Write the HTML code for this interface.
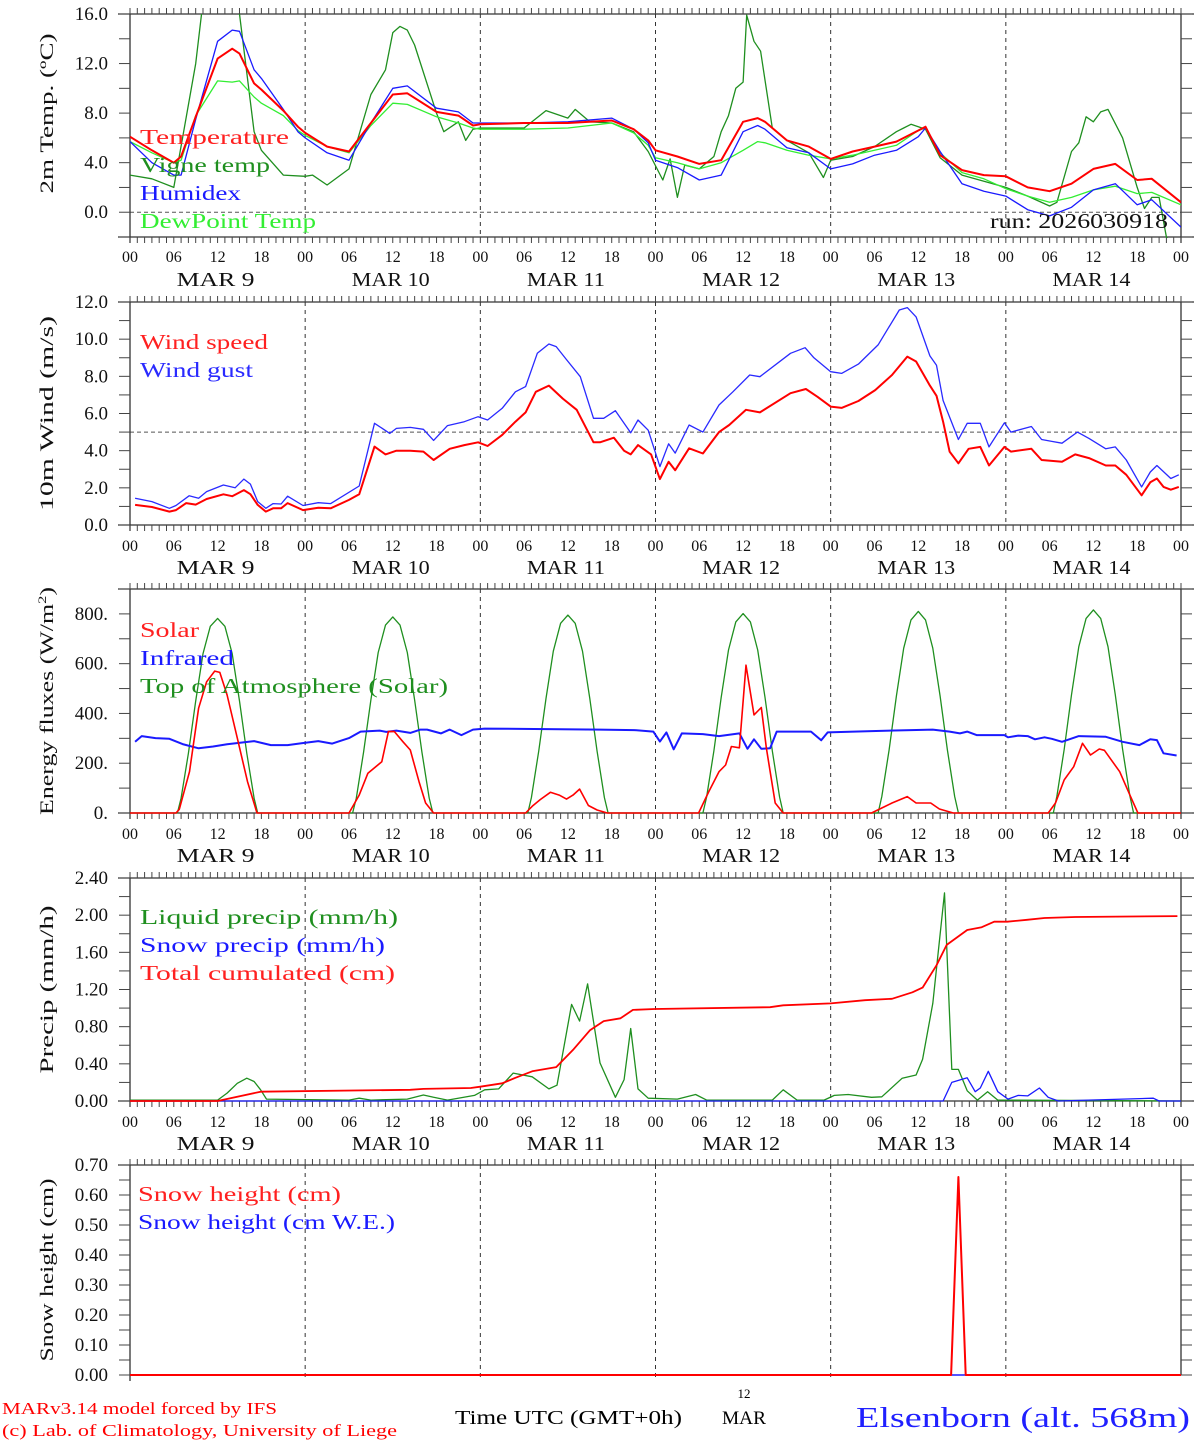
<!DOCTYPE html>
<html><head><meta charset="utf-8"><title>MAR forecast Elsenborn</title>
<style>
html,body{margin:0;padding:0;background:#fff;}
svg{display:block;}
text{font-family:"Liberation Serif",serif;}
</style></head>
<body>
<svg id="chart" width="1194" height="1440" viewBox="0 0 1194 1440" xmlns="http://www.w3.org/2000/svg">
<rect x="0" y="0" width="1194" height="1440" fill="#fff"/>
<text x="2" y="1414" font-size="17" fill="#f00" textLength="275" lengthAdjust="spacingAndGlyphs">MARv3.14 model forced by IFS</text>
<text x="2" y="1436" font-size="17" fill="#f00" textLength="395" lengthAdjust="spacingAndGlyphs">(c) Lab. of Climatology, University of Liege</text>
<text x="455" y="1424" font-size="20" fill="#000" textLength="227" lengthAdjust="spacingAndGlyphs">Time UTC (GMT+0h)</text>
<text x="744" y="1398" font-size="13" fill="#000" text-anchor="middle">12</text>
<text x="722" y="1424" font-size="19" fill="#000" textLength="44" lengthAdjust="spacingAndGlyphs">MAR</text>
<text x="856" y="1427" font-size="28" fill="#2020ff" textLength="334" lengthAdjust="spacingAndGlyphs">Elsenborn (alt. 568m)</text>
</svg>
<script>
// ---------- data ----------
const dayNames = ["MAR  9","MAR 10","MAR 11","MAR 12","MAR 13","MAR 14"];
const hourLabels = ["00","06","12","18"];

const tempHours = [0,3,6,7,9,12,14,15,17,18,21,23,24,27,30,33,36,38,42,45,47,48,54,60,66,69,71,72,75,78,81,84,86,87,90,93,96,99,102,105,108,109,111,114,117,120,123,126,129,132,135,138,140,144];
const tempVals = [6.1,5.0,4.0,4.5,7.7,12.4,13.2,12.8,10.4,9.9,8.2,6.9,6.4,5.3,4.9,7.2,9.5,9.6,8.1,7.8,7.0,7.1,7.2,7.2,7.4,6.7,5.8,5.0,4.5,3.9,4.2,7.3,7.6,7.3,5.8,5.3,4.3,4.9,5.3,5.7,6.6,6.9,4.6,3.4,3.0,2.9,2.0,1.7,2.3,3.5,3.9,2.6,2.7,0.8];
const humidexVals = [5.7,4.0,3.0,3.0,7.5,13.8,14.7,14.6,11.5,10.8,8.3,6.5,6.0,4.8,4.2,7.2,10.0,10.2,8.4,8.1,7.2,7.2,7.2,7.3,7.6,6.7,5.6,4.2,3.6,2.6,3.0,6.5,7.0,6.7,5.2,4.8,3.5,3.9,4.6,5.0,6.1,6.8,4.9,2.3,1.7,1.3,0.2,-0.3,0.4,1.8,2.3,0.6,1.0,-1.2];
const dewVals = [5.7,4.8,4.0,4.2,7.8,10.6,10.5,10.6,9.3,8.8,7.8,6.6,6.2,5.3,4.8,7.0,8.8,8.7,7.7,7.2,6.8,6.7,6.7,6.8,7.2,6.4,5.4,4.4,4.0,3.5,4.0,5.0,5.7,5.6,5.0,4.6,4.3,4.6,5.0,5.4,6.6,6.8,4.8,3.2,2.7,1.9,1.3,0.8,1.2,1.8,2.1,1.5,1.6,0.6];
const vigneHours = [0,3,6,9,10,11,14,15,17,18,21,24,25,27,30,33,35,36,37,38,39,42,43,45,46,47,48,54,57,58,60,61,63,66,69,71,73,74,75,76,78,80,81,82,83,84,84.5,85.5,86.4,88,90,93,95,96,99,102,105,106,107,108,109,111,114,117,120,123,126,127,129,130,131,132,133,134,136,138,139,140,141,142,143];
const vigneVals = [3.0,2.7,2.0,12,17,19,19,16,6.5,5.0,3.0,2.9,3.0,2.2,3.5,9.5,11.5,14.5,15.0,14.7,13.5,8.0,6.5,7.3,5.8,6.7,6.8,6.8,8.2,8.0,7.6,8.3,7.3,7.2,6.5,4.9,2.6,4.3,1.2,3.8,3.5,4.5,6.5,7.8,10.0,10.5,15.9,13.8,13.0,6.8,5.8,4.8,2.8,4.2,4.5,5.3,6.5,6.8,7.1,6.9,6.7,4.4,3.0,2.5,2.0,1.3,0.5,0.8,4.9,5.6,7.7,7.3,8.1,8.3,6.0,2.0,0.3,1.2,1.2,-2.0,-3];

const windHours = [0.7,3,5.4,6.3,7.7,9,10.5,12.8,14,15.6,16.5,17.5,18.6,19.6,20.7,21.6,23.7,25.8,27.5,30,31.4,33.5,35,36.5,38.4,40.2,41.6,43.8,45.8,47.7,49,51,52.8,54.2,55.6,57.4,59.3,61.2,63.5,64.4,66.3,67.7,68.6,69.6,71.4,72.6,73.8,74.7,76.6,78.5,80.7,82.1,84.4,86.3,90.5,92.6,94.2,96,97.5,99.8,102.1,104.4,106.5,107.7,109.6,110.5,111.4,112.3,113.5,114.9,116.5,117.7,119.8,120.7,123.5,124.9,126.3,127.7,129.5,131.4,133.7,135,136.5,138.6,139.8,140.7,141.6,142.6,143.7];
const windVals = [1.08,0.97,0.72,0.8,1.18,1.1,1.4,1.65,1.55,1.88,1.66,1.08,0.72,0.9,0.9,1.18,0.8,0.93,0.9,1.35,1.65,4.22,3.8,4.0,4.0,3.95,3.5,4.1,4.3,4.45,4.25,4.85,5.56,6.06,7.17,7.5,6.8,6.2,4.45,4.45,4.7,4.0,3.8,4.3,3.8,2.47,3.4,2.95,4.13,3.85,5.0,5.38,6.2,6.06,7.09,7.32,6.9,6.37,6.3,6.67,7.26,8.07,9.06,8.8,7.5,6.95,5.56,3.95,3.32,4.1,4.2,3.2,4.2,3.95,4.1,3.5,3.45,3.4,3.8,3.6,3.2,3.2,2.7,1.6,2.3,2.5,2.05,1.9,2.05];
const gustHours = [0.7,3,5.4,6.3,8.1,9.4,10.5,12.8,14.4,15.6,16.5,17.5,18.6,19.6,20.7,21.6,23.7,25.8,27.5,31.4,33.5,35.6,36.5,38.4,40.2,41.6,43.5,45.8,47.7,49,51,52.8,54.2,55.8,57.4,58.4,59.8,61.7,63.5,64.9,66.5,68.6,69.6,71,72.6,73.8,74.7,76.6,78.5,80.7,82.6,84.9,86.3,90.5,92.5,93.7,96,97.5,99.8,102.5,105.4,106.5,107.7,109.6,110.5,111.4,113.5,114.7,116.5,117.7,119.8,120.7,123.5,124.9,126.3,127.7,129.8,131.4,133.7,135,136.5,138.6,139.8,140.7,142.6,143.7];
const gustVals = [1.44,1.26,0.9,1.05,1.57,1.44,1.8,2.15,2.0,2.47,2.2,1.26,0.9,1.15,1.13,1.55,1.05,1.2,1.15,2.1,5.47,4.93,5.2,5.25,5.15,4.55,5.35,5.56,5.83,5.65,6.28,7.17,7.45,9.24,9.74,9.6,8.9,7.98,5.74,5.74,6.15,4.96,5.65,5.1,3.14,4.37,3.87,5.38,5.0,6.46,7.17,8.07,7.98,9.24,9.54,9.0,8.25,8.16,8.66,9.69,11.57,11.7,11.2,9.1,8.6,6.7,4.6,5.47,5.47,4.2,5.5,5.0,5.3,4.6,4.5,4.4,5.0,4.66,4.1,4.2,3.5,2.05,2.85,3.2,2.5,2.7];

const toaHours = [0,6.5,7,8,9,10,11,12,13,14,15,16,17,17.5, 30.5,31,32,33,34,35,36,37,38,39,40,41,41.5, 54.5,55,56,57,58,59,60,61,62,63,64,65,65.5, 78.5,79,80,81,82,83,84,85,86,87,88,89,89.5, 102.5,103,104,105,106,107,108,109,110,111,112,113,113.5, 126.5,127,128,129,130,131,132,133,134,135,136,137,137.5,144];
const toaVals = [0,0,60,240,450,640,750,782,750,640,450,240,60,0, 0,60,245,455,645,755,788,755,645,455,245,60,0, 0,62,248,460,650,762,795,762,650,460,248,62,0, 0,64,250,465,655,768,801,768,655,465,250,64,0, 0,66,253,470,662,776,810,776,662,470,253,66,0, 0,68,256,475,668,782,816,782,668,475,256,68,0,0];
const solarHours = [0,6.3,6.75,8.15,9.4,10.5,11.6,12.3,13.3,14.7,16.1,17.4, 30,31.4,32.6,34.5,35.4,36.2,37.4,38.4,39.6,40.5,41.6, 54.2,55.1,56.2,57.6,58.8,59.8,60.7,61.6,62.8,64,65.4, 77.9,79.3,80.7,81.6,82.4,83.5,84.4,85.5,86.5,87.2,88.4,89.5, 101.6,103,104.4,106.5,107.7,109.7,110.9,112.8, 125.8,126.8,128,129.3,130.5,131.6,132.8,133.5,135.6,137,138.1,144];
const solarVals = [0,0,15,166,421,527,570,565,474,301,126,0, 0,72,160,206,327,328,286,253,126,40,0, 0,27,54,83,72,56,72,96,30,12,0, 0,86,166,193,267,262,594,394,424,260,40,0, 0,20,40,66,40,40,16,0, 0,40,133,186,280,233,257,252,166,72,0,0];
const irHours = [0.7,1.6,3.5,5.4,7.2,9.4,11.4,13.3,17,19.3,21.6,23.5,25.8,27.7,30,31.6,34.2,35.1,36.5,38.4,39.8,40.7,42.6,43.8,45.4,47,48.6,64.4,69.1,71.7,72.6,73.5,74.5,75.6,78.5,80.7,83.5,84.6,85.5,86.5,87.7,88.6,93.3,94.7,95.6,101.6,110,112.3,113.7,114.7,116,119.8,120.3,121.7,123,124,125.3,126.3,127.7,130,133.7,136,138.3,139.8,140.7,141.6,143.4];
const irVals = [286,309,301,298,277,260,267,276,289,273,273,280,289,279,301,327,331,326,331,322,335,335,320,335,313,335,339,335,333,327,287,324,256,320,317,309,320,258,296,258,260,327,327,292,324,329,335,327,320,327,313,313,304,311,309,296,304,298,286,309,306,286,273,296,293,240,231];

const cumHours = [0,12,17.9,38.4,40.2,46.7,48,51,52.8,55.1,58.4,60.7,63,64.9,67.2,68.9,71.9,87.7,89.5,96,100.7,104.4,107.2,108.6,110.5,111.9,114.7,116.7,118.4,120.2,122.9,125.3,129.5,143.5];
const cumVals = [0,0,0.10,0.12,0.13,0.14,0.154,0.19,0.25,0.32,0.365,0.55,0.76,0.86,0.89,0.98,0.99,1.01,1.03,1.05,1.085,1.1,1.17,1.22,1.46,1.68,1.84,1.87,1.93,1.93,1.95,1.97,1.98,1.99];
const liqHours = [0,12,13.3,14.7,16,17,17.9,18.7,30,31.4,33,38,40.2,41.6,43.5,47.2,48.6,50.5,52.5,55.1,57.4,58.5,60.5,61.6,62.7,64.4,66.5,67.7,68.6,69.6,71,75,77.5,79,88,89.5,91.4,95.1,96.5,98.4,101.6,103,105.8,107.7,108.6,110,111.6,112.6,113.5,114.7,116.1,117.5,118.9,144];
const liqVals = [0.01,0.01,0.085,0.19,0.245,0.21,0.12,0.02,0.01,0.03,0.01,0.02,0.065,0.04,0.01,0.06,0.12,0.13,0.3,0.26,0.13,0.17,1.04,0.86,1.26,0.41,0.04,0.23,0.78,0.13,0.03,0.02,0.07,0.01,0.01,0.12,0.01,0.01,0.06,0.07,0.04,0.045,0.245,0.28,0.45,1.05,2.24,0.34,0.34,0.11,0.01,0.1,0.01,0.0];
const snowPrHours = [0,111.4,112.6,114.7,115.8,116.5,117.6,118.9,120.3,121.7,123,124.6,125.8,127.2,140.2,141,144];
const snowPrVals = [0,0,0.2,0.25,0.1,0.14,0.32,0.1,0.02,0.06,0.055,0.14,0.04,0.0,0.03,0,0];

const snowHours = [0,112.5,113.5,114.5,144];
const snowVals = [0,0,0.66,0,0];
const snowWeHours = [0,144];
const snowWeVals = [0,0];

// ---------- drawing ----------
const NS = "http://www.w3.org/2000/svg";
const svg = document.getElementById("chart");
const X0 = 130, X1 = 1181, HMAX = 144;
function xs(h){ return X0 + h * (X1 - X0) / HMAX; }
function mk(tag, attrs, parent){
  const e = document.createElementNS(NS, tag);
  for (const k in attrs) e.setAttribute(k, attrs[k]);
  (parent || svg).appendChild(e);
  return e;
}

const panels = [
  {key:"temp", ymin:-2, ymax:16, pyMin:237, pyMax:14, labels:[0,4,8,12,16], fmt:v=>v.toFixed(1), minor:2, ref:0, title:"2m Temp. (ºC)", titleLen:160, xlab:256, mar:279, bottomTicks:true},
  {key:"wind", ymin:0, ymax:12, pyMin:525, pyMax:302, labels:[0,2,4,6,8,10,12], fmt:v=>v.toFixed(1), minor:1, ref:5, title:"10m Wind (m/s)", titleLen:195, xlab:545, mar:567, bottomTicks:true},
  {key:"energy", ymin:0, ymax:900, pyMin:813, pyMax:589, labels:[0,200,400,600,800], fmt:v=>v+".", minor:100, ref:null, title:"Energy fluxes (W/m²)", titleLen:228, xlab:833, mar:855, bottomTicks:true},
  {key:"precip", ymin:0, ymax:2.4, pyMin:1101, pyMax:878, labels:[0,0.4,0.8,1.2,1.6,2.0,2.4], fmt:v=>v.toFixed(2), minor:0.2, ref:null, title:"Precip (mm/h)", titleLen:168, xlab:1121, mar:1143, bottomTicks:true},
  {key:"snow", ymin:0, ymax:0.7, pyMin:1375, pyMax:1165, labels:[0,0.1,0.2,0.3,0.4,0.5,0.6,0.7], fmt:v=>v.toFixed(2), minor:0.05, ref:null, title:"Snow height (cm)", titleLen:183, xlab:null, mar:null, bottomTicks:false}
];
panels.forEach(p=>{ p.ys = v => p.pyMin + (v - p.ymin) * (p.pyMax - p.pyMin) / (p.ymax - p.ymin); });

panels.forEach((p, pi)=>{
  const g = mk("g", {});
  
  
  for (let d=1; d<6; d++){
    const l = mk("line", {x1:xs(d*24), x2:xs(d*24), y1:p.pyMax, y2:p.pyMin + (p.bottomTicks?0:6), stroke:"#333", "stroke-width":1, "stroke-dasharray":"4,4"}, g);
    
    
  }
  if (p.ref !== null){
    const r = mk("line", {x1:X0, x2:X1, y1:p.ys(p.ref), y2:p.ys(p.ref), stroke:"#555", "stroke-width":1, "stroke-dasharray":"4,3"}, g);
    
    
  }
  const top = mk("line", {x1:118, x2:1194, y1:p.pyMax, y2:p.pyMax, stroke:"#333", "stroke-width":1.3}, g);
  
  
  const left = mk("line", {x1:X0, x2:X0, y1:p.pyMax, y2:p.pyMin + 6, stroke:"#333", "stroke-width":1.3}, g);
  
  
  const right = mk("line", {x1:X1, x2:X1, y1:p.pyMax, y2:p.pyMin + (p.bottomTicks?6:0), stroke:"#333", "stroke-width":1.3}, g);
  
  
  if (p.bottomTicks){
    const bot = mk("line", {x1:118, x2:1194, y1:p.pyMin, y2:p.pyMin, stroke:"#333", "stroke-width":1.3}, g);
    
    
  }
  for (let h=0; h<=HMAX; h++){
    const t = mk("line", {x1:xs(h), x2:xs(h), y1:p.pyMax-6, y2:p.pyMax, stroke:"#444", "stroke-width":1}, g);
    
    
    if (p.bottomTicks){
      const b = mk("line", {x1:xs(h), x2:xs(h), y1:p.pyMin, y2:p.pyMin+6, stroke:"#444", "stroke-width":1}, g);
      
      
    }
  }
  const nMinor = Math.round((p.ymax - p.ymin)/p.minor);
  for (let i=0; i<=nMinor; i++){
    const v = p.ymin + i*p.minor;
    const yy = p.ys(v);
    const lt = mk("line", {x1:119, x2:X0, y1:yy, y2:yy, stroke:"#444", "stroke-width":1}, g);
    
    
    const rt = mk("line", {x1:X1, x2:1192, y1:yy, y2:yy, stroke:"#444", "stroke-width":1}, g);
    
    
  }
  p.labels.forEach(v=>{
    const t = mk("text", {x:108, y:p.ys(v)+6, "font-size":19, "text-anchor":"end", fill:"#111"}, g);
    t.textContent = p.fmt(v);
    
    
  });
  const cy = (p.pyMin + p.pyMax)/2 + (pi===0? -12 : 0);
  const yt = mk("text", {x:0, y:0, "font-size":19, "text-anchor":"middle", fill:"#111", transform:`translate(53,${cy}) rotate(-90)`, textLength:p.titleLen, lengthAdjust:"spacingAndGlyphs"}, g);
  if (p.key === "energy"){
    yt.textContent = "Energy fluxes (W/m";
    const sup = mk("tspan", {"font-size":12, dy:-7}, yt);
    sup.textContent = "2";
    const cl = mk("tspan", {dy:7}, yt);
    cl.textContent = ")";
  } else {
    yt.textContent = p.title;
  }
  
  
  if (p.xlab !== null){
    for (let d=0; d<6; d++){
      hourLabels.forEach((lab, k)=>{
        const t = mk("text", {x:xs(d*24 + k*6), y:p.xlab+6, "font-size":16, "text-anchor":"middle", fill:"#111"}, g);
        t.textContent = lab;
        
        
      });
      const m = mk("text", {x:xs(d*24+12)-41, y:p.mar+7, "font-size":20, fill:"#111", textLength:78, lengthAdjust:"spacingAndGlyphs", "xml:space":"preserve"}, g);
      m.textContent = dayNames[d];
      
      
    }
    const t = mk("text", {x:xs(144), y:p.xlab+6, "font-size":16, "text-anchor":"middle", fill:"#111"}, g);
    t.textContent = "00";
    
    
  }
  const cp = mk("clipPath", {id:"clip-"+p.key}, g);
  mk("rect", {x:X0, y:p.pyMax, width:X1-X0, height:p.pyMin-p.pyMax+1}, cp);
  p.g = mk("g", {"clip-path":`url(#clip-${p.key})`}, g);
  
  
});

function series(p, hours, vals, color, width, name){
  const pts = hours.map((h,i)=> xs(h).toFixed(1) + "," + p.ys(vals[i]).toFixed(1)).join(" ");
  const pl = mk("polyline", {points:pts, fill:"none", stroke:color, "stroke-width":width, "stroke-linejoin":"round"}, p.g);
  
  
}
function legend(x, y, text, color, len, name){
  const t = mk("text", {x:x, y:y+7, "font-size":21, fill:color, textLength:len, lengthAdjust:"spacingAndGlyphs"});
  t.textContent = text;
  
  
}
const [P1,P2,P3,P4,P5] = panels;

series(P1, vigneHours, vigneVals, "#1f8f1f", 1.3, "vigne-temp-line");
series(P1, tempHours, dewVals, "#33ee33", 1.3, "dewpoint-line");
series(P1, tempHours, humidexVals, "#1a1aff", 1.3, "humidex-line");
series(P1, tempHours, tempVals, "#ff0000", 2, "temperature-line");
legend(140,137,"Temperature","#ff2020",149,"legend-temperature");
legend(140,165,"Vigne temp","#1f8f1f",130,"legend-vigne-temp");
legend(140,193,"Humidex","#1a1aff",101,"legend-humidex");
legend(140,221,"DewPoint Temp","#33ee33",176,"legend-dewpoint");
const run = mk("text", {x:990, y:228, "font-size":21, fill:"#111", textLength:178, lengthAdjust:"spacingAndGlyphs"});
run.textContent = "run: 2026030918";



series(P2, gustHours, gustVals, "#2a2aff", 1.3, "wind-gust-line");
series(P2, windHours, windVals, "#ff0000", 2, "wind-speed-line");
legend(140,342,"Wind speed","#ff2020",128,"legend-wind-speed");
legend(140,370,"Wind gust","#2a2aff",113,"legend-wind-gust");

series(P3, toaHours, toaVals, "#1f8f1f", 1.3, "toa-solar-line");
series(P3, irHours, irVals, "#1a1aff", 2, "infrared-line");
series(P3, solarHours, solarVals, "#ff0000", 1.6, "solar-line");
legend(140,630,"Solar","#ff2020",59,"legend-solar");
legend(140,658,"Infrared","#1a1aff",94,"legend-infrared");
legend(140,686,"Top of Atmosphere (Solar)","#1f8f1f",308,"legend-toa");

series(P4, liqHours, liqVals, "#1f8f1f", 1.3, "liquid-precip-line");
series(P4, snowPrHours, snowPrVals, "#1a1aff", 1.3, "snow-precip-line");
series(P4, cumHours, cumVals, "#ff0000", 1.8, "cumulated-precip-line");
legend(140,917,"Liquid precip (mm/h)","#1f8f1f",258,"legend-liquid-precip");
legend(140,945,"Snow precip (mm/h)","#1a1aff",245,"legend-snow-precip");
legend(140,973,"Total cumulated (cm)","#ff2020",255,"legend-total-cumulated");

series(P5, snowWeHours, snowWeVals, "#1a1aff", 1.5, "snow-we-line");
series(P5, snowHours, snowVals, "#ff0000", 2, "snow-height-line");
legend(138,1194,"Snow height (cm)","#ff2020",203,"legend-snow-height");
legend(138,1222,"Snow height (cm W.E.)","#1a1aff",257,"legend-snow-we");
</script>
</body></html>
